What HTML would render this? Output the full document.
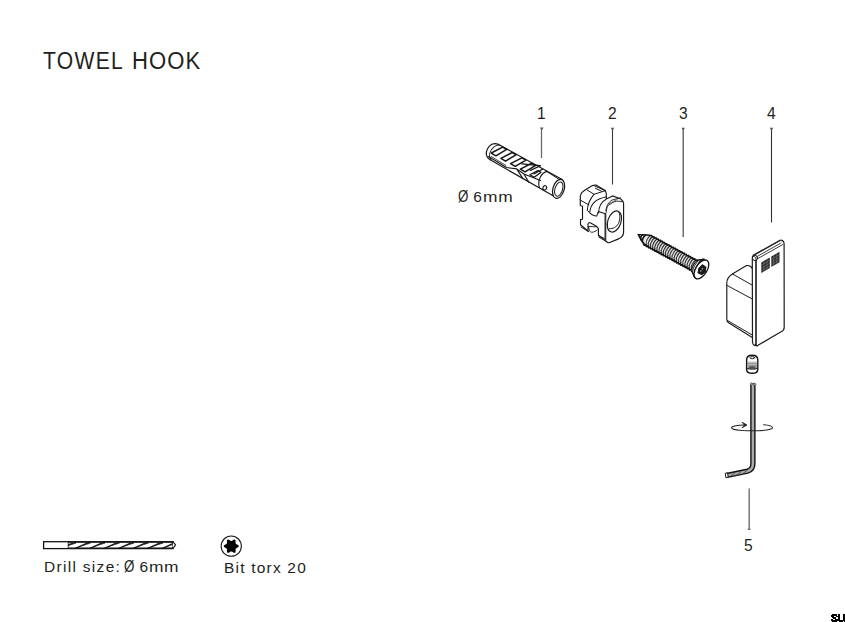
<!DOCTYPE html>
<html><head><meta charset="utf-8">
<style>
html,body{margin:0;padding:0;background:#fff;}
body{width:845px;height:622px;position:relative;overflow:hidden;font-family:"Liberation Sans",sans-serif;color:#231f20;}
.t{position:absolute;white-space:nowrap;line-height:1;}
.ttl{top:49px;font-size:24.5px;transform:scaleX(0.86);transform-origin:0 0;}
.num{font-size:15.6px;}
.lbl{font-size:15.5px;}
svg{position:absolute;left:0;top:0;}
</style></head><body>
<div class="t ttl" style="left:43px;letter-spacing:1.5px">TOWEL</div><div class="t ttl" style="left:132px;letter-spacing:1.2px;transform:scaleX(0.9)">HOOK</div>
<div class="t num" id="n1" style="left:537px;top:106px">1</div>
<div class="t num" id="n2" style="left:608px;top:106px">2</div>
<div class="t num" id="n3" style="left:679px;top:106px">3</div>
<div class="t num" id="n4" style="left:767px;top:106px">4</div>
<div class="t num" id="n5" style="left:744px;top:538px">5</div>
<div class="t lbl" id="dia" style="left:458px;top:189px;letter-spacing:1.5px"><span style="display:inline-block;transform:scale(0.86,1.07);transform-origin:0 85%;letter-spacing:0">Ø</span><span style="letter-spacing:-1.2px"> </span>6<span style="display:inline-block;transform:scaleX(1.12);transform-origin:0 0;letter-spacing:0.6px">mm</span></div>
<div class="t lbl" id="drill" style="left:44px;top:559px;letter-spacing:1.3px">Drill size:<span style="letter-spacing:-1.6px"> </span><span style="display:inline-block;transform:scale(0.86,1.07);transform-origin:0 85%;letter-spacing:0">Ø</span><span style="letter-spacing:-0.8px"> </span>6<span style="display:inline-block;transform:scaleX(1.12);transform-origin:0 0;letter-spacing:0.4px">mm</span></div>
<div class="t lbl" id="torx" style="left:224px;top:560px;letter-spacing:1.2px">Bit torx 20</div>
<svg width="845" height="622" viewBox="0 0 845 622">
<!-- leaders -->
<g fill="none">
 <path d="M541.5,128.5V158" stroke="#6a6a6a" stroke-width="1.3"/>
 <path d="M612.5,128.5V184.5" stroke="#3a3a3a" stroke-width="1.1"/>
 <path d="M683.2,128.5V237" stroke="#555" stroke-width="1.3"/>
 <path d="M771.5,128.5V222.5" stroke="#333" stroke-width="1.1"/>
 <path d="M749.2,488.5V529.5" stroke="#6a6a6a" stroke-width="1.35"/>
</g>
<g fill="#555">
 <path d="M540,127.5h3.5l-1,2h-1.5z"/>
 <path d="M610.8,127.8h3.4l-1,2h-1.4z"/>
 <path d="M681.5,127.8h3.4l-1,2h-1.4z"/>
 <path d="M769.8,127.8h3.4l-1,2h-1.4z"/>
 <path d="M747.5,530h3.4l-1,-2h-1.4z" fill="#777"/>
</g>

<!-- part 1 dowel -->
<g transform="translate(487.8,148.6) rotate(28.9)" fill="none" stroke="#161616" stroke-width="1.2" stroke-linejoin="round" stroke-linecap="round">
 <path d="M7,-8.8 L80,-8.9 M7,8.6 L82,9.8"/>
 <path d="M7,-8.8 C2,-8.5 -0.3,-4 -0.2,0.5 C0,5 2.5,8 7,8.6"/>
 <path d="M8.5,-8.6 C4.5,-7 3.2,-2 3.8,2 C4.2,5 5.5,7 8.5,8.3" stroke-width="0.9"/>
 <path d="M62,-8.6 L81,-7.4" stroke-width="0.9"/>
 <ellipse cx="81.4" cy="1" rx="5.6" ry="9.8" transform="rotate(-12 81.4 1)" fill="#fff" stroke-width="1.25"/>
 <ellipse cx="81.7" cy="1.1" rx="3.8" ry="7.3" transform="rotate(-12 81.7 1.1)" stroke-width="1"/>
 <path d="M63,-8.8 C58.5,-5 58.5,4 64,9.2" stroke-width="1.1"/>
 <ellipse cx="68.8" cy="6.8" rx="1.8" ry="2.2" stroke-width="1.1"/>
 <g stroke-width="1.5">
  <path d="M5.2,2.2 L12.3,-8.4 L16.9,-8.4 L10.6,2.4 Z"/>
  <path d="M16.2,2.2 L23.3,-8.4 L27.9,-8.4 L21.6,2.4 Z"/>
  <path d="M27.2,2.2 L34.3,-8.4 L38.9,-8.4 L32.6,2.4 Z"/>
  <path d="M38.4,2.2 L45.5,-8.4 L50.1,-8.4 L43.8,2.4 Z"/>
  <path d="M49.5,2.6 L54.5,-5 L58,-5 L54.5,2.6 Z" stroke-width="1.3"/>
 </g>
 <path d="M37,-3 L54.4,-10.5 L47.8,-1.5 M52.7,-0.1 L58,-8.7" stroke-width="1.2"/>
 <path d="M4.5,6.5 L25.5,7.6 L35.1,3.8 L43.9,4.8 L61.6,2.5 M35.1,3.8 L45,9.2 M43.9,4.8 L52,9.6" stroke-width="1.1"/>
 <path d="M7,5.2 L24,6" stroke-width="0.7"/>
</g>
<!-- part 2 nut -->
<g fill="none" stroke="#181818" stroke-width="1.15" stroke-linejoin="round" stroke-linecap="round">
 <path d="M580.3,205.7 L580.3,196.4 C580.8,194 581.5,192.8 582.1,192.3 C583.5,191 585,189.8 586.3,189.2 L592.4,185.6 C594,185 595,184.9 596,185.1 L604.8,190.2 C605.8,191.5 606.3,193 606.3,194.3 L606.3,199 L612.6,195.9 L620.7,199 C622.5,200.3 623.4,201.8 623.6,203.5 L623.6,232.3 C623.5,235.5 621,238 618,239.1 L609,242.7 C607.8,242.8 606.8,242.2 606.3,241.4 L598.4,235.2 L598.4,228.8 C597.8,227.5 597,226.5 596.1,225.9 L589.7,222.5 C588.8,222.6 588.2,223.3 588,224.2 L588,231.1 L580.5,224.8 L580.5,219.6 L582.5,219.3 L582.5,206 Z" fill="#fff"/>
 <path d="M580.5,224.8 L588,231.1 M581,227.1 L588.6,231.7 M598.4,235.2 L605.4,239.2 M598.8,237.2 L605.6,241" stroke-width="0.9"/>
 <path d="M588.6,226.5 C589,231 590.5,232.5 592,232.3 C594,232 596,231 597.3,230 M588.6,226.5 L596.5,226.8" stroke-width="0.9"/>
 <path d="M605.4,213.8 L605.4,240.6" stroke-width="1.8" stroke="#333"/>
 <path d="M586.8,189.7 L594,194.3 L605.3,190.7 M594,185.6 L605.3,190.7 M595.5,188.3 L601.5,191.2 M580.1,200 L588.3,204.6" stroke-width="1"/>
 <path d="M587.3,210.8 C587.5,205 589,200 594,194.3" stroke-width="1.05"/>
 <path d="M589.9,211.8 C590.5,205 595,199 605.8,196.9" stroke-width="1.05"/>
 <path d="M598.6,212.9 C598.8,207 601,202 605.8,199.5" stroke-width="1.05"/>
 <path d="M588.6,211.5 C590,214 594,216 596.7,216.1 C597.5,214.5 597.8,212.5 598.4,211.5 L605.4,213.8" stroke-width="1.05"/>
 <path d="M606.3,212.5 C606.5,208 607.5,205.5 609,204.9 L612.6,202.6 C615,201.3 618,200.5 621.6,201.7 M605.9,210.7 C606.5,205 609,202 612,200 L620.5,197.8" stroke-width="0.9"/>
 <path d="M607.5,204.5 L616,200 M609.5,203.5 L617.5,199.5" stroke-width="0.6" stroke="#555"/>
 <ellipse cx="614.4" cy="221.5" rx="6.6" ry="10.9" transform="rotate(19 614.4 221.5)" stroke-width="1.15"/>
 <path d="M618.3,211.5 C620.5,214 620.3,219 618.5,223.5 C616.5,227 613,229 609.5,228.7" stroke-width="1"/>
</g>
<!-- part 3 screw -->
<g transform="translate(638.5,234.4) rotate(28.5)" fill="none" stroke="#111" stroke-linejoin="round" stroke-linecap="round">
 <path d="M0,0.3 L10,-4.4 L64,-5 L64,6.2 L9,5.6 Z" fill="#e6e6e6" stroke="none"/>
 <path d="M12.2,-4.4 C13.8,-1 13.4,3 11.0,6 M14.6,-4.4 C16.2,-1 15.8,3 13.4,6 M17.1,-4.4 C18.7,-1 18.3,3 15.9,6 M19.6,-4.4 C21.2,-1 20.8,3 18.4,6 M22.0,-4.4 C23.6,-1 23.2,3 20.8,6 M24.4,-4.4 C26.1,-1 25.6,3 23.2,6 M26.9,-4.4 C28.5,-1 28.1,3 25.7,6 M29.4,-4.4 C31.0,-1 30.6,3 28.2,6 M31.8,-4.4 C33.4,-1 33.0,3 30.6,6 M34.2,-4.4 C35.9,-1 35.5,3 33.0,6 M36.7,-4.4 C38.3,-1 37.9,3 35.5,6 M39.2,-4.4 C40.8,-1 40.4,3 38.0,6 M41.6,-4.4 C43.2,-1 42.8,3 40.4,6 M44.0,-4.4 C45.6,-1 45.2,3 42.8,6 M46.5,-4.4 C48.1,-1 47.7,3 45.3,6 M49.0,-4.4 C50.6,-1 50.2,3 47.8,6 M51.4,-4.4 C53.0,-1 52.6,3 50.2,6 M53.9,-4.4 C55.5,-1 55.1,3 52.7,6 M56.3,-4.4 C57.9,-1 57.5,3 55.1,6 M58.8,-4.4 C60.4,-1 60.0,3 57.5,6 M61.2,-4.4 C62.8,-1 62.4,3 60.0,6 " stroke="#777" stroke-width="0.6"/>
 <path d="M0,0.3 C3,-1 6,-3 10,-4.4" stroke-width="1.4"/>
 <path d="M0,0.3 C3,2.5 6,4.5 9,5.6" stroke-width="1.6"/>
 <path d="M11.0,-4.6 C9.4,-1 9.8,3 12.2,6.2 M13.4,-4.6 C11.8,-1 12.2,3 14.6,6.2 M15.9,-4.6 C14.3,-1 14.7,3 17.1,6.2 M18.4,-4.6 C16.8,-1 17.2,3 19.6,6.2 M20.8,-4.6 C19.2,-1 19.6,3 22.0,6.2 M23.2,-4.6 C21.6,-1 22.1,3 24.4,6.2 M25.7,-4.6 C24.1,-1 24.5,3 26.9,6.2 M28.2,-4.6 C26.6,-1 27.0,3 29.4,6.2 M30.6,-4.6 C29.0,-1 29.4,3 31.8,6.2 M33.0,-4.6 C31.4,-1 31.8,3 34.2,6.2 M35.5,-4.6 C33.9,-1 34.3,3 36.7,6.2 M38.0,-4.6 C36.4,-1 36.8,3 39.2,6.2 M40.4,-4.6 C38.8,-1 39.2,3 41.6,6.2 M42.9,-4.6 C41.2,-1 41.6,3 44.1,6.2 M45.3,-4.6 C43.7,-1 44.1,3 46.5,6.2 M47.8,-4.6 C46.1,-1 46.5,3 49.0,6.2 M50.2,-4.6 C48.6,-1 49.0,3 51.4,6.2 M52.7,-4.6 C51.1,-1 51.5,3 53.9,6.2 M55.1,-4.6 C53.5,-1 53.9,3 56.3,6.2 M57.6,-4.6 C56.0,-1 56.4,3 58.8,6.2 M60.0,-4.6 C58.4,-1 58.8,3 61.2,6.2 M62.5,-4.6 C60.9,-1 61.2,3 63.7,6.2 " stroke="#2a2a2a" stroke-width="0.95"/>
 <path d="M3.5,-1.5 C3,0 3.2,2 4.5,3.5 M6.5,-2.8 C5.5,-0.5 5.6,2.5 7,4.6" stroke-width="1.5"/>
 <path d="M10,-4.3 L12.2,-5.4 L13.4,-4.4 L14.6,-5.4 L15.9,-4.4 L17.1,-5.4 L18.4,-4.4 L19.6,-5.4 L20.8,-4.4 L22.0,-5.4 L23.2,-4.4 L24.4,-5.4 L25.7,-4.4 L26.9,-5.4 L28.2,-4.4 L29.4,-5.4 L30.6,-4.4 L31.8,-5.4 L33.1,-4.4 L34.2,-5.4 L35.5,-4.4 L36.7,-5.4 L38.0,-4.4 L39.2,-5.4 L40.4,-4.4 L41.6,-5.4 L42.9,-4.4 L44.1,-5.4 L45.3,-4.4 L46.5,-5.4 L47.8,-4.4 L49.0,-5.4 L50.2,-4.4 L51.4,-5.4 L52.7,-4.4 L53.9,-5.4 L55.1,-4.4 L56.3,-5.4 L57.6,-4.4 L58.8,-5.4 L60.0,-4.4 L61.2,-5.4 L62.5,-4.4 L63.7,-5.4 L64.9,-4.4" stroke-width="1.5"/>
 <path d="M9,5.6 L10.2,6.8 L11.4,5.8 L12.6,6.8 L13.9,5.8 L15.1,6.8 L16.4,5.8 L17.6,6.8 L18.8,5.8 L20.0,6.8 L21.2,5.8 L22.4,6.8 L23.7,5.8 L24.9,6.8 L26.2,5.8 L27.4,6.8 L28.6,5.8 L29.8,6.8 L31.1,5.8 L32.2,6.8 L33.5,5.8 L34.7,6.8 L36.0,5.8 L37.2,6.8 L38.4,5.8 L39.6,6.8 L40.9,5.8 L42.1,6.8 L43.3,5.8 L44.5,6.8 L45.8,5.8 L47.0,6.8 L48.2,5.8 L49.4,6.8 L50.7,5.8 L51.9,6.8 L53.1,5.8 L54.3,6.8 L55.6,5.8 L56.8,6.8 L58.0,5.8 L59.2,6.8 L60.5,5.8 L61.7,6.8 L62.9,5.8 L64.1,6.8 L65.4,5.8" stroke-width="1.7"/>
 <path d="M63.5,-5 L69.5,-9.5 M63.5,6.2 L70,11" stroke-width="1.3"/>
 <path d="M64,-5 C62.5,-1 62.5,3 64,6.2 L70,11 C66,7 66,-6 69.5,-9.5 Z" fill="#fff" stroke-width="1"/>
 <path d="M65.5,-6.5 C63.8,-2 63.8,3 65.5,7.5" stroke-width="0.8"/>
 <path d="M68.5,-8.5 C66,-4 66,5 68.8,10" stroke-width="1.8"/>
 <ellipse cx="72" cy="0.8" rx="5.6" ry="10.6" transform="rotate(4 72 0.8)" fill="#fff" stroke-width="1.3"/>
 <path d="M70.6,-3.8 L74.8,-3.4 L76.6,1 L74.8,5.2 L70.6,5.5 L69.2,0.9 Z" fill="#1a1a1a" stroke-width="0.9"/>
 <circle cx="72.6" cy="-0.2" r="0.7" fill="#ddd" stroke="none"/>
 <circle cx="72.3" cy="2.4" r="0.7" fill="#ddd" stroke="none"/>
</g>

<!-- part 4 hook -->
<g fill="none" stroke="#1c1c1c" stroke-width="1.15" stroke-linejoin="round" stroke-linecap="round">
 <path d="M752.3,268.5 C751,266 749,265.2 746.5,265.6 L732.4,273.9 C729,276 726.8,279 726.8,283 L726.8,319.5 C726.8,321 727.5,322 729,323 L752.3,337.5" fill="#fff"/>
 <path d="M732.4,273.9 L752.3,285.2 M726.8,285.3 L752.3,299 M727.5,320.5 L752.3,335" stroke-width="1"/>
 <path d="M753.2,255.3 L779.5,240.6 C781.5,239.5 783.8,240.8 784.1,243.5 L784.2,327.5 C784.2,329.5 783,330.8 781.5,331.5 L758,345.3 C756,346.3 753,345.5 752.5,342.5 L752.3,258.5 C752.3,256.5 752.8,255.8 753.2,255.3 Z" fill="#fff" stroke-width="1.2"/>
 <path d="M756,260.5 L756,344.5" stroke-width="1.6"/>
 <path d="M756,259.5 C756,258 755,256.5 753.5,256" stroke-width="1"/>
 <circle cx="755" cy="258" r="2.6" stroke-width="1"/>
 <path d="M756.5,256.8 L781,243 M757.3,258.8 L783,244.5 M755.5,254.5 L780,240.8" stroke-width="0.85"/>
 <path d="M755.5,344.5 L757.5,346" stroke-width="1"/>
</g>
<g fill="#2a2a2a">
 <path d="M761.3,262.5 L769.8,257.5 L769.8,268 L761.3,273 Z"/>
 <path d="M771.3,256.6 L779.5,251.8 L779.5,262.2 L771.3,267 Z"/>
</g>
<g stroke="#888" stroke-width="0.5" fill="none">
 <path d="M761.5,265.2 L769.5,260.5 M761.5,268 L769.5,263.3 M761.5,270.7 L769.5,266 M771.5,259.3 L779.3,254.7 M771.5,262 L779.3,257.4 M771.5,264.7 L779.3,260.1"/>
 <path d="M764,261 V272 M767,259.2 V270.2 M773.8,255.2 V266 M776.8,253.5 V264.5"/>
</g>

<!-- part 5 set screw + key -->
<g fill="none" stroke="#151515" stroke-linejoin="round" stroke-linecap="round">
 <path d="M746.6,360 C746.6,357 749,355.3 752.2,355.3 C755.4,355.3 757.8,357 757.8,360 L757.8,369.5 C757.8,372 755.5,373.3 752.2,373.3 C749,373.3 746.6,372 746.6,369.5 Z" fill="#fff" stroke-width="1.4"/>
 <ellipse cx="752.3" cy="357.7" rx="2.4" ry="1.05" stroke-width="0.9"/>
 <path d="M747.2,362.2 H757.2" stroke-width="0.6" stroke="#666"/>
 <path d="M747.2,363.6 H757.2" stroke-width="0.6" stroke="#444"/>
 <path d="M747.3,364.3 H757.1 V368.4 C755,369.2 749.5,369.2 747.3,368.4 Z" fill="#9a9a9a" stroke="none"/>
 <path d="M748.6,368.4 C749,365.2 755.4,365.2 755.8,368.4 Z" fill="#555" stroke="none"/>
 <path d="M747.2,368.6 C749,369.4 755.5,369.4 757.2,368.6" stroke-width="1"/>
</g>
<g fill="none" stroke-linejoin="round" stroke-linecap="round">
 <path d="M752.9,384.5 L752.9,463.5 C752.9,468 751,470.3 747.5,471.2 L727,475.4" stroke="#121212" stroke-width="5.4" stroke-linecap="butt"/>
 <path d="M752.9,384.5 L752.9,463.5 C752.9,468 751,470.3 747.5,471.2 L727,475.4" stroke="#aaaaaa" stroke-width="2.6" stroke-linecap="butt"/>
 <path d="M731,475.8 L735,473 M737,474.6 L741,471.8 M743,473.4 L747,470.6" stroke="#444" stroke-width="0.8"/>
 <path d="M750.2,384.2 L751.5,383 L753,384.2 L754.5,383 L755.7,384.2" stroke="#151515" stroke-width="1"/>
 <path d="M725.6,473.2 L727.5,472.8 L728.3,477.2 L726.3,477.6 Z" fill="#fff" stroke="#151515" stroke-width="1"/>
</g>
<g fill="none" stroke="#222" stroke-width="1.05" stroke-linecap="round" stroke-linejoin="round">
 <path d="M745.8,425 C738,424.8 731.5,426 731.5,427.8 C731.5,429.5 740.5,430.8 752,430.8 C763.5,430.8 772.5,429.5 772.5,427.8 C772.5,426.1 768,425.1 763.5,424.8"/>
 <path d="M742.3,422.5 L746.6,425 L742.3,427.5" stroke-width="1.1"/>
 <path d="M743.5,423.8 L746.6,425 L743.5,426.2 Z" fill="#222" stroke="none"/>
</g>

<!-- drill -->
<defs><clipPath id="dc"><rect x="68" y="541" width="106" height="8.2"/></clipPath></defs>
<g>
 <rect x="43.6" y="541.7" width="129.5" height="6.9" fill="#fff" stroke="#151515" stroke-width="1.3"/>
 <path d="M68.2,541.7 V548.6" stroke="#151515" stroke-width="0.8"/>
 <g clip-path="url(#dc)">
  <path d="M60.0,548.6 C65.0,547 69.0,544 76.0,542.2 M74.5,548.6 C79.5,547 83.5,544 90.5,542.2 M89.0,548.6 C94.0,547 98.0,544 105.0,542.2 M103.5,548.6 C108.5,547 112.5,544 119.5,542.2 M118.0,548.6 C123.0,547 127.0,544 134.0,542.2 M132.5,548.6 C137.5,547 141.5,544 148.5,542.2 M147.0,548.6 C152.0,547 156.0,544 163.0,542.2 M161.5,548.6 C166.5,547 170.5,544 177.5,542.2 " fill="none" stroke="#161616" stroke-width="1.5"/>
  <path d="M66.0,546.2 C69.0,545.2 72.0,544.2 76.0,543.2 M80.5,546.2 C83.5,545.2 86.5,544.2 90.5,543.2 M95.0,546.2 C98.0,545.2 101.0,544.2 105.0,543.2 M109.5,546.2 C112.5,545.2 115.5,544.2 119.5,543.2 M124.0,546.2 C127.0,545.2 130.0,544.2 134.0,543.2 M138.5,546.2 C141.5,545.2 144.5,544.2 148.5,543.2 M153.0,546.2 C156.0,545.2 159.0,544.2 163.0,543.2 M167.5,546.2 C170.5,545.2 173.5,544.2 177.5,543.2 " fill="none" stroke="#333" stroke-width="0.8"/>
 </g>
 <path d="M68,542.2 H173 M68,548.2 H173" stroke="#151515" stroke-width="1.2"/>
 <path d="M173,541.8 L175.6,544.9 L173,548.4" fill="#fff" stroke="#151515" stroke-width="1.1" stroke-linejoin="round"/>
</g>
<!-- torx -->
<circle cx="231.25" cy="546.15" r="10.1" fill="none" stroke="#1a1a1a" stroke-width="1.1"/>
<path d="M238.77,546.20 L238.68,546.59 L238.43,546.95 L238.05,547.28 L237.62,547.55 L237.17,547.79 L236.76,547.99 L236.42,548.18 L236.14,548.38 L235.93,548.58 L235.77,548.81 L235.66,549.06 L235.58,549.35 L235.55,549.68 L235.56,550.08 L235.58,550.53 L235.60,551.04 L235.59,551.55 L235.49,552.04 L235.30,552.44 L235.01,552.71 L234.63,552.83 L234.19,552.79 L233.72,552.63 L233.26,552.39 L232.84,552.12 L232.46,551.87 L232.12,551.67 L231.81,551.53 L231.52,551.45 L231.25,551.42 L230.98,551.45 L230.69,551.53 L230.38,551.67 L230.04,551.87 L229.66,552.12 L229.24,552.39 L228.78,552.63 L228.31,552.79 L227.87,552.83 L227.49,552.71 L227.20,552.44 L227.01,552.04 L226.91,551.55 L226.90,551.04 L226.92,550.53 L226.94,550.08 L226.95,549.68 L226.92,549.35 L226.84,549.06 L226.73,548.81 L226.57,548.58 L226.36,548.38 L226.08,548.18 L225.74,547.99 L225.33,547.79 L224.88,547.55 L224.45,547.28 L224.07,546.95 L223.82,546.59 L223.73,546.20 L223.82,545.81 L224.07,545.45 L224.45,545.12 L224.88,544.85 L225.33,544.61 L225.74,544.41 L226.08,544.22 L226.36,544.02 L226.57,543.82 L226.73,543.59 L226.84,543.34 L226.92,543.05 L226.95,542.72 L226.94,542.32 L226.92,541.87 L226.90,541.36 L226.91,540.85 L227.01,540.36 L227.20,539.96 L227.49,539.69 L227.87,539.57 L228.31,539.61 L228.78,539.77 L229.24,540.01 L229.66,540.28 L230.04,540.53 L230.38,540.73 L230.69,540.87 L230.98,540.95 L231.25,540.98 L231.52,540.95 L231.81,540.87 L232.12,540.73 L232.46,540.53 L232.84,540.28 L233.26,540.01 L233.72,539.77 L234.19,539.61 L234.63,539.57 L235.01,539.69 L235.30,539.96 L235.49,540.36 L235.59,540.85 L235.60,541.36 L235.58,541.87 L235.56,542.32 L235.55,542.72 L235.58,543.05 L235.66,543.34 L235.77,543.59 L235.93,543.82 L236.14,544.02 L236.42,544.22 L236.76,544.41 L237.17,544.61 L237.62,544.85 L238.05,545.12 L238.43,545.45 L238.68,545.81Z" fill="#000"/>
<!-- SU -->
<g fill="#000" shape-rendering="crispEdges"><rect x="832" y="614" width="5" height="1"/><rect x="838" y="614" width="2" height="1"/><rect x="843" y="614" width="2" height="1"/><rect x="831" y="615" width="6" height="1"/><rect x="838" y="615" width="2" height="1"/><rect x="843" y="615" width="2" height="1"/><rect x="831" y="616" width="3" height="1"/><rect x="836" y="616" width="4" height="1"/><rect x="843" y="616" width="2" height="1"/><rect x="832" y="617" width="4" height="1"/><rect x="838" y="617" width="2" height="1"/><rect x="843" y="617" width="2" height="1"/><rect x="833" y="618" width="3" height="1"/><rect x="838" y="618" width="2" height="1"/><rect x="843" y="618" width="2" height="1"/><rect x="831" y="619" width="2" height="1"/><rect x="835" y="619" width="5" height="1"/><rect x="843" y="619" width="2" height="1"/><rect x="831" y="620" width="14" height="1"/><rect x="832" y="621" width="5" height="1"/><rect x="839" y="621" width="4" height="1"/><rect x="844" y="621" width="1" height="1"/></g>
</svg>
</body></html>
